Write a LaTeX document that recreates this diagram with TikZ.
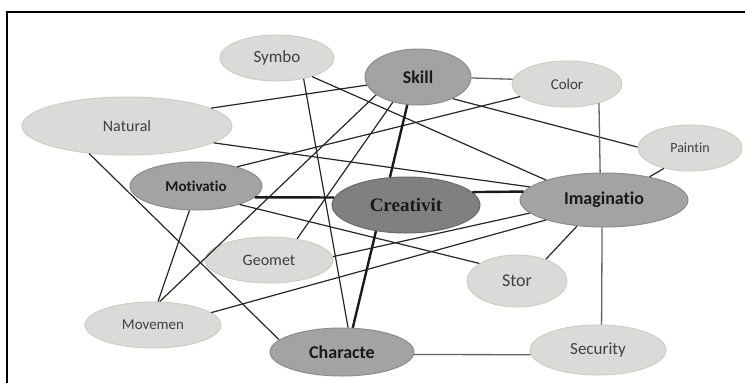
\documentclass[tikz,border=0pt]{standalone}
\usepackage{fontspec}
\setmainfont{Carlito}[Ligatures=NoCommon]
\newfontfamily\crfont{Liberation Serif}
\usetikzlibrary{shapes.geometric}
\definecolor{lightgr}{RGB}{218,218,216}
\definecolor{lightrim}{RGB}{206,206,192}
\definecolor{lighttext}{RGB}{64,64,64}
\definecolor{midgr}{RGB}{163,163,163}
\definecolor{midrim}{RGB}{140,140,140}
\definecolor{darkgr}{RGB}{128,128,128}
\definecolor{darkrim}{RGB}{105,105,105}
\definecolor{darktext}{RGB}{26,26,26}
\definecolor{linkcol}{RGB}{38,38,38}
\definecolor{softcol}{RGB}{100,100,100}

\begin{document}
\begin{tikzpicture}[x=1pt,y=-1pt,
  bub/.style={ellipse,inner sep=0pt,line width=1pt},
  light/.style={bub,fill=lightgr,draw=lightrim,text=lighttext,font=\fontsize{15}{18}\selectfont},
  mid/.style={bub,fill=midgr,draw=midrim,text=darktext,font=\fontsize{18}{21}\selectfont\bfseries},
  link/.style={draw=linkcol,line width=1.2pt},
  heavy/.style={draw=darktext,line width=2.4pt},
  soft/.style={draw=softcol,line width=1.3pt}]
\useasboundingbox (0,0) rectangle (745,383);
\draw[line width=1.6pt] (7,383) -- (7,12) -- (745,12);

\node[light,minimum width=114pt,minimum height=46pt,font=\fontsize{17}{20}\selectfont] (symbo) at (277,58) {Symbo};
\node[mid,minimum width=106pt,minimum height=56pt] (skill) at (418,77) {Skill};
\node[light,minimum width=110pt,minimum height=46pt] (color) at (567,84) {Color};
\node[light,minimum width=104pt,minimum height=46pt,font=\fontsize{14}{17}\selectfont] (paintin) at (690,148) {Paintin};
\node[light,minimum width=210pt,minimum height=58pt,font=\fontsize{16}{19}\selectfont] (natural) at (127,126) {Natural};
\node[mid,minimum width=132pt,minimum height=48pt,font=\fontsize{15}{18}\selectfont\bfseries] (motiv) at (196,186) {Motivatio};
\node[mid,fill=darkgr,draw=darkrim,minimum width=148pt,minimum height=56pt,font=\crfont\fontsize{19}{22}\selectfont\bfseries] (creat) at (406,205) {Creativit};
\node[mid,minimum width=168pt,minimum height=54pt] (imag) at (604,200) {Imaginatio};
\node[light,minimum width=128pt,minimum height=46pt,font=\fontsize{16}{19}\selectfont] (geomet) at (269,260) {Geomet};
\node[light,minimum width=100pt,minimum height=52pt,font=\fontsize{18}{21}\selectfont] (stor) at (517,281) {Stor};
\node[light,minimum width=136pt,minimum height=46pt] (movemen) at (153,325) {Movemen};
\node[mid,minimum width=144pt,minimum height=48pt] (charac) at (342,352) {Characte};
\node[light,minimum width=136pt,minimum height=50pt,font=\fontsize{17}{20}\selectfont] (secur) at (598,350) {Security};

\draw[link] (natural.12) -- (skill.189);
\draw[link] (natural.-11) -- (imag.170);
\draw[link] (natural.-144) -- (charac.169);
\draw[link] (symbo.-38) -- (charac.76);
\draw[link] (symbo.-28) -- (imag.161);
\draw[soft] (skill.-1) -- (color.175);
\draw[link] (skill.-32) -- (paintin.179);
\draw[link] (skill.-157) -- (movemen.74);
\draw[link] (skill.-135) -- (geomet.37);
\draw[link] (motiv.25) -- (color.-165);
\draw[link] (motiv.-23) -- (stor.155);
\draw[link] (motiv.-105) -- (movemen.78);
\draw[heavy] (creat.174) -- (motiv.-11);
\draw[heavy] (creat.120) -- (skill.-111);
\draw[heavy] (creat.11) -- (imag.174);
\draw[heavy] (creat.-139) -- (charac.66);
\draw[soft] (imag.98) -- (color.-31);
\draw[soft] (imag.-94) -- (secur.82);
\draw[link] (imag.27) -- (paintin.-142);
\draw[link] (imag.-136) -- (stor.37);
\draw[link] (imag.-170) -- (geomet.3);
\draw[link] (imag.-161) -- (movemen.12);
\draw[soft] (charac.-2) -- (secur.184);
\end{tikzpicture}
\end{document}
